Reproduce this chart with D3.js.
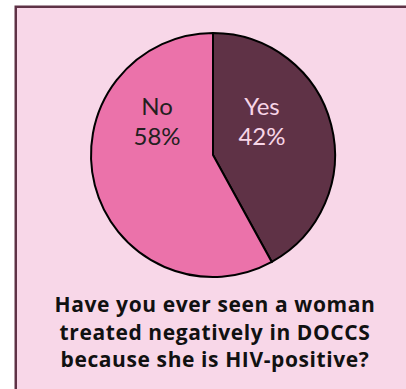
<!DOCTYPE html>
<html>
<head>
<meta charset="utf-8">
<script src="https://cdn.jsdelivr.net/npm/d3@7"></script>
<style>
html,body{margin:0;padding:0;background:#fff;}
svg{display:block;}
</style>
</head>
<body>
<script>
const categories = ["Yes", "No"];
const values = [42, 58];
const colors = ["#5F3246", "#EB72AA"];
const labelColors = ["#F7D5E7", "#231F20"];
const titleLines = ["Have you ever seen a woman", "treated negatively in DOCCS", "because she is HIV-positive?"];

const W = 406, H = 389;
const svg = d3.select("body").append("svg").attr("width", W).attr("height", H);

svg.append("rect")
  .attr("x", 15.75).attr("y", 6.75)
  .attr("width", 430).attr("height", 430)
  .attr("fill", "#F8D7E8")
  .attr("stroke", "#5F3246").attr("stroke-width", 2.5);

const cx = 213, cy = 155, r = 122;
const data = categories.map((c, i) => ({cat: c, value: values[i], i}));
const pie = d3.pie().sort(null).value(d => d.value);
const arc = d3.arc().innerRadius(0).outerRadius(r);
const g = svg.append("g").attr("transform", `translate(${cx},${cy})`);
const arcs = pie(data);
g.selectAll("path").data(arcs).join("path")
  .attr("d", arc)
  .attr("fill", d => colors[d.data.i])
  .attr("stroke", "#000").attr("stroke-width", 2);

const lg = g.selectAll("text").data(arcs).join("text")
  .attr("text-anchor", "middle")
  .attr("font-family", "Lato, 'Open Sans', sans-serif")
  .attr("font-size", 24)
  .attr("fill", d => labelColors[d.data.i]);
lg.each(function(d) {
  const t = d3.select(this);
  const x = d.data.cat === "Yes" ? 49 : -56;
  t.append("tspan").attr("x", x).attr("y", -40).text(d.data.cat);
  t.append("tspan").attr("x", x).attr("y", -10).text(d.data.value + "%");
});

const tt = svg.append("text")
  .attr("text-anchor", "middle")
  .attr("font-family", "'Open Sans', sans-serif")
  .attr("font-weight", "bold")
  .attr("font-size", 21)
  .attr("letter-spacing", 0.6)
  .attr("fill", "#111");
const ys = [312, 340, 367];
titleLines.forEach((l, i) => {
  tt.append("tspan").attr("x", 215).attr("y", ys[i]).text(l);
});
</script>
</body>
</html>
